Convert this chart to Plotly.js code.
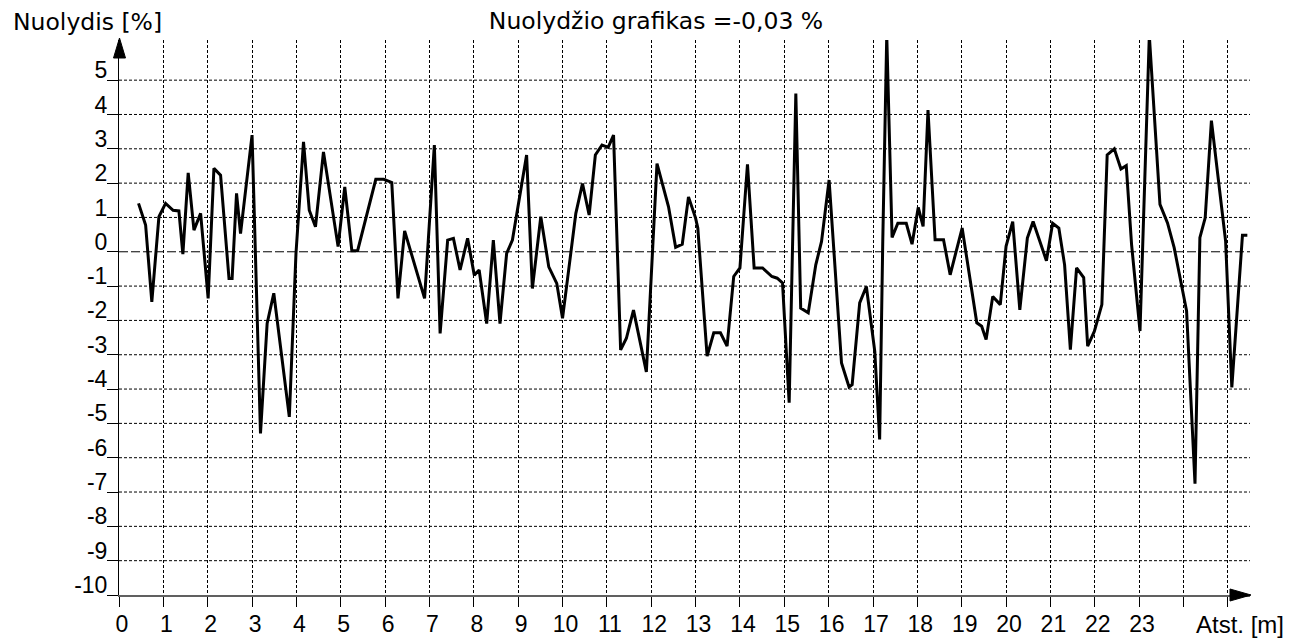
<!DOCTYPE html>
<html>
<head>
<meta charset="utf-8">
<script src="https://cdn.plot.ly/plotly-3.0.1.min.js"></script>
<style>
html,body{margin:0;padding:0;background:#fff;}
#chart{width:1297px;height:639px;}
</style>
</head>
<body>
<div id="chart"></div>
<script>
// ---- data ----
const distance = [
  0.44,0.60,0.74,0.90,1.05,1.22,1.35,1.44,1.56,1.69,1.84,2.01,2.14,2.29,2.48,2.55,2.65,2.74,3.00,
  3.19,3.34,3.49,3.84,3.99,4.16,4.29,4.43,4.61,4.94,5.09,5.25,5.38,5.79,5.97,6.15,6.29,
  6.44,6.89,7.11,7.24,7.41,7.54,7.69,7.86,8.01,8.12,8.29,8.44,8.59,8.74,8.87,9.19,9.32,9.51,
  9.69,9.87,10.00,10.30,10.45,10.60,10.74,10.89,11.03,11.15,11.31,11.44,11.60,11.89,12.13,12.39,12.55,12.70,12.84,
  13.00,13.05,13.26,13.41,13.56,13.71,13.86,14.00,14.17,14.32,14.51,14.72,14.84,14.96,15.11,15.26,15.37,15.54,15.71,15.84,16.01,
  16.29,16.46,16.53,16.70,16.85,17.04,17.15,17.22,17.31,17.43,17.56,17.75,17.88,18.02,18.13,18.24,18.40,18.59,18.74,19.01,
  19.34,19.45,19.55,19.70,19.87,20.00,20.15,20.31,20.48,20.61,20.91,21.05,21.19,21.32,21.45,21.59,21.75,21.84,21.99,22.16,22.28,22.44,
  22.59,22.71,22.83,23.02,23.23,23.47,23.64,23.79,24.07,24.26,24.37,24.49,24.63,24.95,25.09,25.33,25.44
];
const slope = [
  1.41,0.78,-1.46,1.02,1.41,1.21,1.19,-0.07,2.30,0.63,1.12,-1.36,2.43,2.23,-0.78,-0.78,1.70,0.53,3.40,
  -5.29,-2.09,-1.21,-4.81,-0.05,3.20,1.21,0.73,2.91,0.15,1.89,0.03,0.03,2.11,2.11,2.02,-1.36,
  0.61,-1.36,3.11,-2.38,0.34,0.39,-0.53,0.39,-0.68,-0.53,-2.09,0.34,-2.09,-0.05,0.34,2.82,-1.07,1.02,
  -0.44,-0.92,-1.94,1.12,1.99,1.07,2.82,3.11,3.04,3.40,-2.86,-2.52,-1.70,-3.50,2.57,1.31,0.13,0.22,1.60,
  0.98,0.69,-3.04,-2.36,-2.36,-2.75,-0.72,-0.47,2.55,-0.47,-0.47,-0.72,-0.77,-0.91,-4.40,4.61,-1.64,-1.78,-0.38,0.30,2.09,
  -3.24,-3.94,-3.87,-1.49,-1.01,-2.90,-5.47,0.30,6.30,0.42,0.83,0.83,0.22,1.29,0.74,4.13,0.35,0.35,-0.67,0.69,
  -2.07,-2.17,-2.56,-1.30,-1.54,0.16,0.88,-1.69,0.40,0.88,-0.26,0.83,0.69,-0.38,-2.85,-0.47,-0.75,-2.75,-2.32,-1.54,2.82,3.00,
  2.41,2.51,0.21,-2.31,6.30,1.38,0.84,0.12,-1.72,-6.76,0.41,0.99,3.82,0.31,-3.95,0.48,0.48
];
const xTickVals = [0,1,2,3,4,5,6,7,8,9,10,11,12,13,14,15,16,17,18,19,20,21,22,23,24,25];
const xTickText = ['0','1','2','3','4','5','6','7','8','9','10','11','12','13','14','15','16','17','18','19','20','21','22','23','',''];
const yTickVals = [-10,-9,-8,-7,-6,-5,-4,-3,-2,-1,0,1,2,3,4,5];
const yTickText = ['-10','-9','-8','-7','-6','-5','-4','-3','-2','-1','0','1','2','3','4','5'];
const chartTitle = 'Nuolydžio grafikas =-0,03 %';
const yTitle = 'Nuolydis [%]';
const xTitle = 'Atst. [m]';

// ---- layout geometry ----
const W = 1297, H = 639;
const M = {l:119, r:47, t:40, b:44, pad:0};
const PW = W - M.l - M.r, PH = H - M.t - M.b;
const X_RANGE = [0, 25.5];
const Y_RANGE = [-10, 6.17];
const px2paperX = px => (px - M.l) / PW;
const py2paperY = py => (H - M.b - py) / PH;

const tickFont = {family:'"Liberation Sans", Arial, sans-serif', size:23, color:'#000'};
const titleFont = {family:'"DejaVu Sans", Verdana, sans-serif', size:23.5, color:'#000'};

// horizontal grid lines (zero line has longer dashes)
const shapes = yTickVals.filter(v => v !== Y_RANGE[0]).map(v => ({
  type:'line', xref:'x', yref:'y', x0:X_RANGE[0], x1:X_RANGE[1], y0:v, y1:v,
  line:{color:'#000', width:1, dash: v === 0 ? '9px,3px' : '3px,2px'}, layer:'below'
}));
// axis arrows
shapes.push({
  type:'path', xref:'paper', yref:'paper', fillcolor:'#000', line:{color:'#000', width:1},
  path:`M${px2paperX(119.5)},${py2paperY(38)} L${px2paperX(113.5)},${py2paperY(58)} L${px2paperX(125.5)},${py2paperY(58)} Z`
});
shapes.push({
  type:'path', xref:'paper', yref:'paper', fillcolor:'#000', line:{color:'#000', width:1},
  path:`M${px2paperX(1251)},${py2paperY(595)} L${px2paperX(1230)},${py2paperY(589)} L${px2paperX(1230)},${py2paperY(601)} Z`
});

const trace = {
  type:'scatter', mode:'lines', x: distance, y: slope,
  line:{color:'#000', width:3, shape:'linear'}, hoverinfo:'skip'
};

const layout = {
  width:W, height:H, margin:M,
  paper_bgcolor:'#fff', plot_bgcolor:'#fff', showlegend:false,
  title:{text:chartTitle, font:titleFont, xref:'container', x:656/W, xanchor:'center', yref:'container', y:1-21/H, yanchor:'middle'},
  xaxis:{
    range:X_RANGE, tickmode:'array', tickvals:xTickVals, ticktext:xTickText,
    ticks:'outside', ticklen:10, tickwidth:1, tickcolor:'#000',
    showline:true, linecolor:'#606060', linewidth:2,
    showgrid:true, gridcolor:'#000', gridwidth:1, griddash:'3px,2px',
    zeroline:false, tickfont:tickFont, ticklabelshift:3, ticklabelstandoff:-3, fixedrange:true
  },
  yaxis:{
    range:Y_RANGE, tickmode:'array', tickvals:yTickVals, ticktext:yTickText,
    ticks:'outside', ticklen:11, tickwidth:1, tickcolor:'#000',
    showline:true, linecolor:'#000', linewidth:1,
    showgrid:false, zeroline:false, tickfont:tickFont, ticklabelshift:-10, ticklabelstandoff:-5, fixedrange:true
  },
  shapes:shapes,
  annotations:[
    {text:yTitle, xref:'paper', yref:'paper', x:px2paperX(11), y:py2paperY(22), xanchor:'left', yanchor:'middle', showarrow:false, font:titleFont},
    {text:xTitle, xref:'paper', yref:'paper', x:px2paperX(1240), y:py2paperY(624), xanchor:'center', yanchor:'middle', showarrow:false, font:{family:'"Liberation Sans", Arial, sans-serif', size:24, color:'#000'}}
  ]
};

Plotly.newPlot('chart', [trace], layout, {displayModeBar:false, staticPlot:true});
</script>
</body>
</html>
